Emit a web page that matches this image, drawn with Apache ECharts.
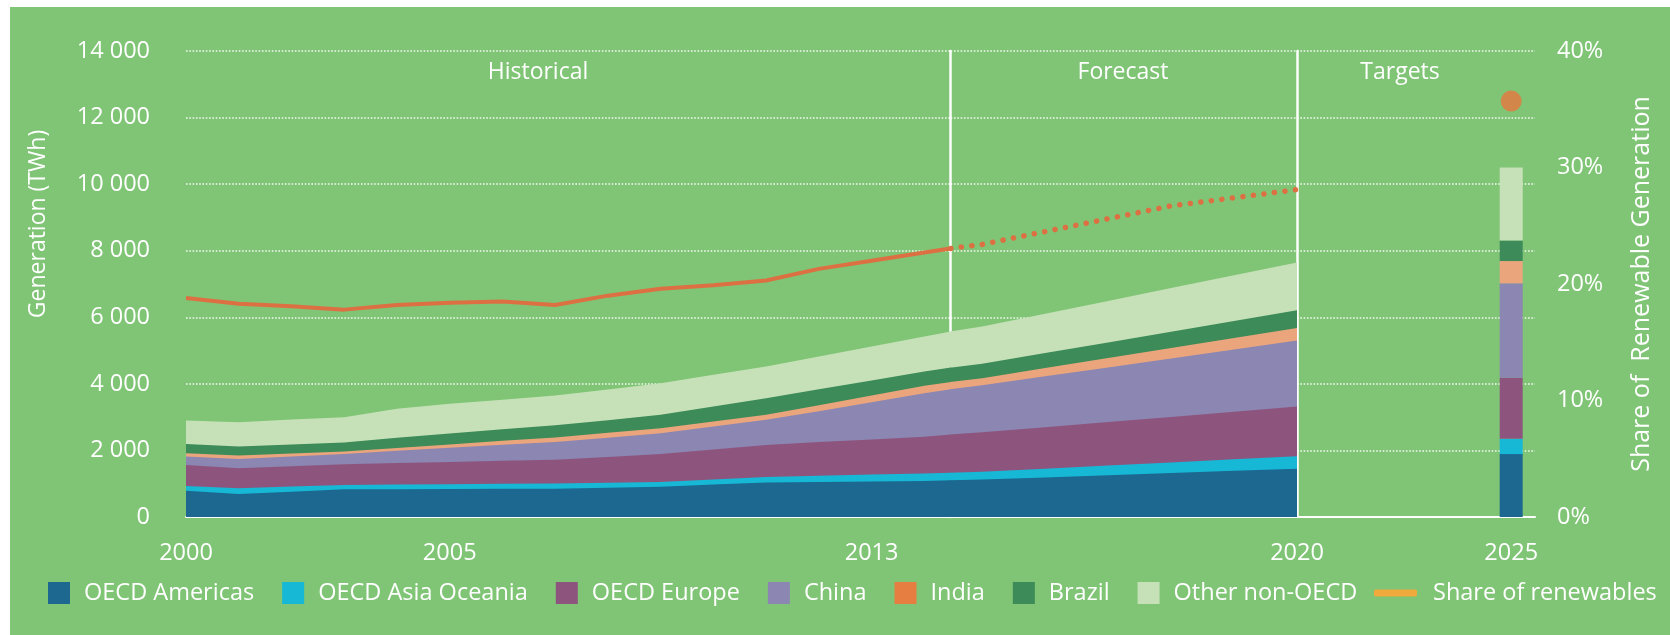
<!DOCTYPE html>
<html>
<head>
<meta charset="utf-8">
<script src="https://cdn.jsdelivr.net/npm/echarts@6/dist/echarts.min.js"></script>
<style>
  html, body { margin: 0; padding: 0; background: #ffffff; }
  #chart { position: absolute; left: 10px; top: 7px; width: 1660px; height: 628px; }
</style>
</head>
<body>
<div id="chart"></div>
<script>
// Renewable electricity generation by region (TWh, stacked) and share of renewables (%)
const years = [2000, 2001, 2002, 2003, 2004, 2005, 2006, 2007, 2008, 2009, 2010,
               2011, 2012, 2013, 2014, 2015, 2016, 2017, 2018, 2019, 2020];
const lastHistoricalYear = 2014;   // forecast starts the year after
const targetCategories = ['2021', '2022', '2023', '2024', '2025'];
const targetYear = '2025';

const regions = ['OECD Americas', 'OECD Asia Oceania', 'OECD Europe', 'China', 'India', 'Brazil', 'Other non-OECD'];

const oecdAmericas = [791, 691, 760, 832, 835, 840, 845, 850, 880, 912, 975, 1033, 1050, 1070, 1085, 1125, 1190, 1256, 1321, 1386, 1451];
const oecdAsiaOceania = [141, 171, 155, 130, 140, 145, 155, 158, 150, 141, 155, 170, 190, 205, 220, 235, 263, 290, 318, 346, 373];
const oecdEurope = [632, 602, 610, 622, 645, 670, 690, 712, 770, 839, 900, 960, 1010, 1055, 1108, 1183, 1245, 1307, 1369, 1431, 1493];
const china = [251, 281, 295, 311, 370, 425, 480, 530, 580, 625, 690, 755, 930, 1120, 1307, 1412, 1527, 1641, 1756, 1871, 1986];
const india = [100, 100, 85, 70, 80, 100, 120, 140, 150, 153, 150, 152, 180, 200, 220, 217, 249, 281, 313, 344, 376];
const brazil = [275, 275, 275, 275, 310, 330, 350, 370, 380, 400, 450, 500, 480, 450, 430, 431, 451, 471, 491, 512, 532];
const otherNonOecd = [710, 730, 750, 760, 870, 890, 880, 890, 920, 950, 950, 950, 980, 1020, 1050, 1123, 1184, 1247, 1309, 1370, 1432];

// 2025 targets (TWh), same region order
const targets2025 = [1890, 460, 1830, 2840, 670, 620, 2190];

// Share of renewables in total generation (%)
const shareOfRenewables = [18.8, 18.3, 18.1, 17.8, 18.2, 18.4, 18.5, 18.2, 19.0, 19.6, 19.9,
                           20.3, 21.3, 22.0, 22.7, 23.4, 24.5, 25.6, 26.7, 27.4, 28.1];
const shareTarget2025 = 35.7;

const regionValues = [oecdAmericas, oecdAsiaOceania, oecdEurope, china, india, brazil, otherNonOecd];
const areaColors = ['#1c6890', '#17b8d6', '#8d557e', '#8b86b2', '#eaa57d', '#3c8b58', '#c6e1b8'];
const legendColors = ['#1c6890', '#17b8d6', '#8d557e', '#8b86b2', '#e67e41', '#3c8b58', '#c6e1b8'];

// running totals: each band is filled from zero up to the sum of itself and the regions below it
const cumulative = regionValues.map((_, i) =>
  years.map((_, k) => regionValues.slice(0, i + 1).reduce((s, arr) => s + arr[k], 0)));

const FONT = 'Open Sans';
const WHITE = '#ffffff';
const splitStyle = { show: true, lineStyle: { color: 'rgba(255,255,255,0.9)', width: 1.6, type: [1.6, 1.7] } };
const thousands = v => String(v).replace(/\B(?=(\d{3})+(?!\d))/g, ' ');
const tickFont = { color: WHITE, fontFamily: FONT, fontSize: 23.5 };

// three panels: historical, forecast, targets
const gridTop = 44, gridHeight = 466;
const grids = [
  { left: 176, top: gridTop, width: 764.7, height: gridHeight, outerBoundsMode: 'none' },
  { left: 940.7, top: gridTop, width: 346.3, height: gridHeight, outerBoundsMode: 'none' },
  { left: 1287, top: gridTop, width: 238, height: gridHeight, outerBoundsMode: 'none' }
];

const histEnd = lastHistoricalYear + 0.5;
const axisLineStyle = { show: true, onZero: false, lineStyle: { color: WHITE, width: 2 } };
function valueXAxis(gridIndex, min, max, labels) {
  return {
    type: 'value', gridIndex, min, max,
    axisLine: axisLineStyle, axisTick: { show: false }, splitLine: { show: false },
    axisLabel: Object.assign({ customValues: labels, margin: 24, formatter: v => String(v) }, tickFont)
  };
}

const xAxes = [
  valueXAxis(0, years[0], histEnd, [2000, 2005, 2013]),
  valueXAxis(1, histEnd, years[years.length - 1], [2020]),
  {
    type: 'category', gridIndex: 2, data: targetCategories, boundaryGap: true,
    axisLine: axisLineStyle, axisTick: { show: false }, splitLine: { show: false },
    axisLabel: Object.assign({ margin: 24, interval: (i, v) => v === targetYear }, tickFont)
  }
];

function twhAxis(gridIndex, opts) {
  return Object.assign({
    type: 'value', gridIndex, min: 0, max: 14000, interval: 2000, position: 'left',
    axisLine: { show: false, onZero: false },
    axisTick: { show: false },
    axisLabel: { show: false },
    splitLine: splitStyle
  }, opts);
}
function shareAxis(gridIndex, opts) {
  return Object.assign({
    type: 'value', gridIndex, min: 0, max: 40, interval: 10, show: false,
    splitLine: { show: false }
  }, opts);
}
const separator = { show: true, onZero: false, lineStyle: { color: WHITE, width: 2.5 } };

const yAxes = [
  twhAxis(0, {
    axisLabel: Object.assign({ show: true, margin: 36, formatter: thousands }, tickFont),
    name: 'Generation (TWh)', nameLocation: 'middle', nameGap: 136, nameRotate: 90,
    nameTextStyle: { color: WHITE, fontFamily: FONT, fontSize: 23, padding: [0, 0, 0, 120] }
  }),
  shareAxis(0),
  twhAxis(1, { axisLine: separator }),
  shareAxis(1),
  twhAxis(2, { axisLine: separator }),
  shareAxis(2, {
    show: true, position: 'right',
    axisLine: { show: false, onZero: false }, axisTick: { show: false },
    axisLabel: Object.assign({ margin: 22, formatter: v => v + '%' }, tickFont),
    name: 'Share of  Renewable Generation', nameLocation: 'middle', nameGap: 94, nameRotate: 90,
    nameTextStyle: { color: WHITE, fontFamily: FONT, fontSize: 25 }
  })
];

const pairs = (arr, from, to) => years.slice(from, to).map((y, k) => [y, arr[from + k]]);
const iLastHist = years.indexOf(lastHistoricalYear);

const series = [];
// top band first so each lower band is painted over it
for (let i = regions.length - 1; i >= 0; i--) {
  const base = () => ({
    type: 'line', name: regions[i], symbol: 'none', showSymbol: false, silent: true,
    lineStyle: { width: 0 },
    itemStyle: { color: legendColors[i] },
    areaStyle: { color: areaColors[i], opacity: 1 },
    emphasis: { disabled: true }
  });
  // each panel carries one point past its edge so the fill reaches the boundary
  series.push(Object.assign(base(), { xAxisIndex: 0, yAxisIndex: 0, data: pairs(cumulative[i], 0, iLastHist + 2) }));
  series.push(Object.assign(base(), { xAxisIndex: 1, yAxisIndex: 2, data: pairs(cumulative[i], iLastHist, years.length) }));
}
regions.forEach((name, i) => {
  series.push({
    type: 'bar', name, xAxisIndex: 2, yAxisIndex: 4, stack: 'target', barWidth: 23, silent: true,
    itemStyle: { color: areaColors[i] },
    data: [[targetYear, targets2025[i]]]
  });
});

const shareColor = '#dd7042';
series.push({
  type: 'line', name: 'Share of renewables', xAxisIndex: 0, yAxisIndex: 1, z: 5,
  symbol: 'none', silent: true, lineStyle: { color: shareColor, width: 4 }, itemStyle: { color: shareColor },
  data: pairs(shareOfRenewables, 0, iLastHist + 2)
});
series.push({
  type: 'line', name: 'Share of renewables', xAxisIndex: 1, yAxisIndex: 3, z: 5,
  symbol: 'none', silent: true,
  lineStyle: { color: shareColor, width: 5.5, type: [0.1, 10.5], cap: 'round' }, itemStyle: { color: shareColor },
  data: pairs(shareOfRenewables, iLastHist, years.length)
});
series.push({
  type: 'scatter', name: 'Share of renewables', xAxisIndex: 2, yAxisIndex: 5, z: 5, silent: true,
  symbolSize: 21, itemStyle: { color: '#e8763e' },
  data: [[targetYear, shareTarget2025]]
});

const legendText = { color: WHITE, fontFamily: FONT, fontSize: 23.5, padding: [0, 0, 0, 9] };
const option = {
  animation: false,
  backgroundColor: '#7fc575',
  grid: grids,
  xAxis: xAxes,
  yAxis: yAxes,
  title: [
    { text: 'Historical', left: 528, top: 65 },
    { text: 'Forecast', left: 1113, top: 65 },
    { text: 'Targets', left: 1390, top: 65 }
  ].map(t => Object.assign(t, {
    textAlign: 'center', textVerticalAlign: 'middle', padding: 0,
    textStyle: { color: WHITE, fontFamily: FONT, fontSize: 23, fontWeight: 'normal' }
  })),
  legend: [
    {
      left: 38, top: 574, itemWidth: 22, itemHeight: 22, itemGap: 28, selectedMode: false, padding: 0,
      icon: 'rect', itemStyle: { borderWidth: 0 }, textStyle: legendText,
      data: regions.map((name, i) => ({ name, icon: 'rect', itemStyle: { color: legendColors[i], borderWidth: 0 } }))
    },
    {
      left: 1364, top: 574, itemWidth: 43, itemHeight: 7, selectedMode: false, padding: 0,
      textStyle: Object.assign({}, legendText, { padding: [0, 0, 0, 11] }),
      data: [{ name: 'Share of renewables', icon: 'roundRect', itemStyle: { color: '#f0aa3c', borderWidth: 0 } }]
    }
  ],
  series
};

const chart = echarts.init(document.getElementById('chart'), null, { renderer: 'canvas' });
chart.setOption(option);
</script>
</body>
</html>
